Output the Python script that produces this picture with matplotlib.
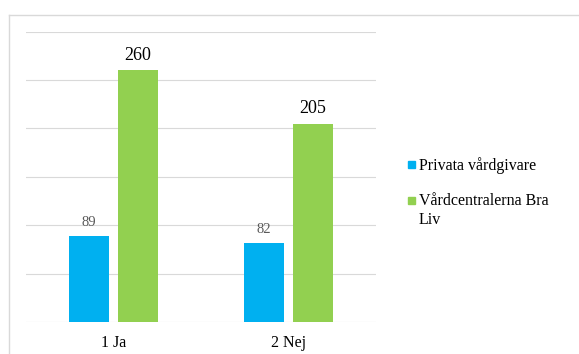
import matplotlib.pyplot as plt
import numpy as np
from matplotlib.patches import Rectangle
from matplotlib.lines import Line2D

categories = ['1 Ja', '2 Nej']
series_names = ['Privata vårdgivare', 'Vårdcentralerna Bra Liv']
legend_labels = ['Privata vårdgivare', 'Vårdcentralerna Bra\nLiv']
privata = [89, 82]
bra_liv = [260, 205]
colors = ['#00B0F0', '#92D050']

plt.rcParams['font.family'] = ['Liberation Serif', 'DejaVu Serif']

W, H = 579, 354
fig = plt.figure(figsize=(W / 100, H / 100), dpi=100)
ax = fig.add_axes([26 / W, (H - 322) / H, (376 - 26) / W, 290.4 / H])

x = np.arange(len(categories))
width = 0.223
offset = 0.14
bars1 = ax.bar(x - offset, privata, width, color=colors[0], zorder=3)
bars2 = ax.bar(x + offset, bra_liv, width, color=colors[1], zorder=3)

for b, v in zip(bars1, privata):
    ax.annotate(str(v), (b.get_x() + b.get_width() / 2, v), xytext=(0, 5),
                textcoords='offset points', ha='center', va='bottom',
                fontsize=10.5, color='#595959')
for b, v in zip(bars2, bra_liv):
    ax.annotate(str(v), (b.get_x() + b.get_width() / 2, v), xytext=(0, 4.5),
                textcoords='offset points', ha='center', va='bottom',
                fontsize=13, color='black')

ax.set_xlim(-0.5, 1.5)
ax.set_ylim(0, 300)
ax.set_yticks(np.arange(0, 301, 50))
ax.set_yticklabels([])
ax.set_xticks(x)
ax.set_xticklabels(categories, fontsize=11.5)
ax.tick_params(axis='both', length=0)
ax.tick_params(axis='x', pad=9.5)
ax.grid(axis='y', color='#D9D9D9', linewidth=0.8, zorder=0)
for s in ax.spines.values():
    s.set_visible(False)

# legend drawn by hand so the square sits by the first line
sq_y = [164.5, 200.5]
for i, lab in enumerate(legend_labels):
    yy = (H - sq_y[i]) / H
    fig.patches.append(Rectangle((408 / W, yy - 3.5 / H), 7 / W, 7 / H,
                                 transform=fig.transFigure, color=colors[i]))
fig.text(419 / W, (H - 166) / H, legend_labels[0], fontsize=11.5, va='center', ha='left')
fig.text(419 / W, (H - 193) / H, legend_labels[1], fontsize=11.5, va='top', ha='left',
         linespacing=1.25)

# outer chart border (left and top edge)
fig.add_artist(Line2D([8.5 / W, 8.5 / W], [0, (H - 14.5) / H], color='#D9D9D9', lw=1))
fig.add_artist(Line2D([8.5 / W, 1], [(H - 14.5) / H, (H - 14.5) / H], color='#D9D9D9', lw=1))

fig.savefig('out.png', dpi=100)
